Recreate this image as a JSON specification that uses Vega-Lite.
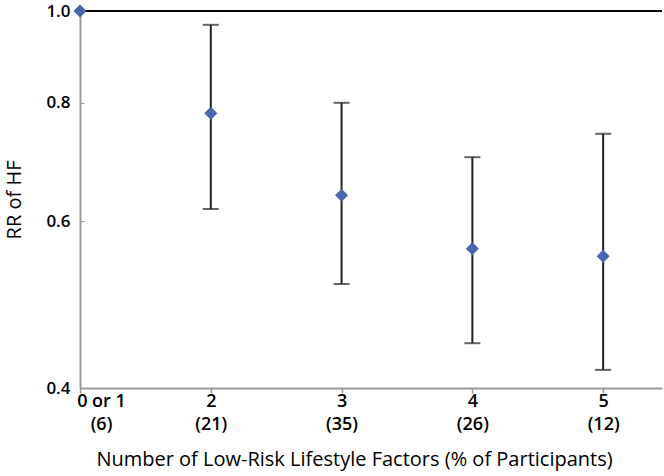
{
  "$schema": "https://vega.github.io/schema/vega-lite/v6.json",
  "autosize": "none",
  "width": 582,
  "height": 377,
  "padding": {"left": 80, "top": 11, "right": 2, "bottom": 88},
  "background": "white",
  "config": {
    "view": {"stroke": null},
    "font": "Open Sans",
    "axis": {"grid": false, "labelColor": "black", "titleColor": "black", "labelFont": "Open Sans", "titleFont": "Open Sans", "titleFontWeight": "normal", "labelFontWeight": 600}
  },
  "data": {
    "values": [
      {"n": 1, "rr": 1.0, "lower": null, "upper": null},
      {"n": 2, "rr": 0.78, "lower": 0.618, "upper": 0.967},
      {"n": 3, "rr": 0.639, "lower": 0.515, "upper": 0.8},
      {"n": 4, "rr": 0.561, "lower": 0.446, "upper": 0.701},
      {"n": 5, "rr": 0.551, "lower": 0.418, "upper": 0.742}
    ]
  },
  "layer": [
    {
      "mark": {"type": "rule", "color": "black", "strokeWidth": 2},
      "encoding": {"y": {"datum": 1, "type": "quantitative"}}
    },
    {
      "mark": {"type": "rule", "color": "#222222", "strokeWidth": 2},
      "encoding": {
        "x": {
          "field": "n", "type": "quantitative",
          "scale": {"domain": [1, 5.45], "nice": false, "zero": false},
          "axis": {
            "values": [1, 2, 3, 4, 5],
            "title": "Number of Low-Risk Lifestyle Factors (% of Participants)",
            "titleFontSize": 20,
            "titlePadding": 16,
            "titleX": 274,
            "labelFontSize": 18,
            "labelLineHeight": 23,
            "labelPadding": -1,
            "labelOffset": {"condition": {"test": "datum.value == 1", "value": 21}, "value": 0},
            "labelExpr": "datum.value == 1 ? ['0 or 1', '(6)'] : datum.value == 2 ? ['2', '(21)'] : datum.value == 3 ? ['3', '(35)'] : datum.value == 4 ? ['4', '(26)'] : ['5', '(12)']",
            "domainColor": "#9a9a9a", "domainWidth": 2,
            "tickColor": "#9a9a9a", "tickSize": 5, "tickWidth": 1.5,
            "labelFlush": false
          }
        },
        "y": {
          "field": "lower", "type": "quantitative",
          "scale": {"type": "log", "domain": [0.4, 1.0], "nice": false, "zero": false},
          "axis": {
            "values": [0.4, 0.6, 0.8, 1.0], "format": ".1f",
            "title": "RR of HF", "titleFontSize": 20, "titlePadding": 21,
            "labelFontSize": 17, "labelPadding": 14,
            "domainColor": "#9a9a9a", "domainWidth": 2,
            "tickColor": "#9a9a9a", "tickSize": -4, "tickWidth": 1,
            "labelFlush": false
          }
        },
        "y2": {"field": "upper"}
      }
    },
    {
      "mark": {"type": "tick", "orient": "horizontal", "color": "#222222", "size": 16, "thickness": 2},
      "encoding": {
        "x": {"field": "n", "type": "quantitative"},
        "y": {"field": "lower", "type": "quantitative"}
      }
    },
    {
      "mark": {"type": "tick", "orient": "horizontal", "color": "#222222", "size": 16, "thickness": 2},
      "encoding": {
        "x": {"field": "n", "type": "quantitative"},
        "y": {"field": "upper", "type": "quantitative"}
      }
    },
    {
      "mark": {"type": "point", "shape": "diamond", "filled": true, "color": "#4A66B0", "size": 170, "opacity": 1},
      "encoding": {
        "x": {"field": "n", "type": "quantitative"},
        "y": {"field": "rr", "type": "quantitative"}
      }
    }
  ]
}
